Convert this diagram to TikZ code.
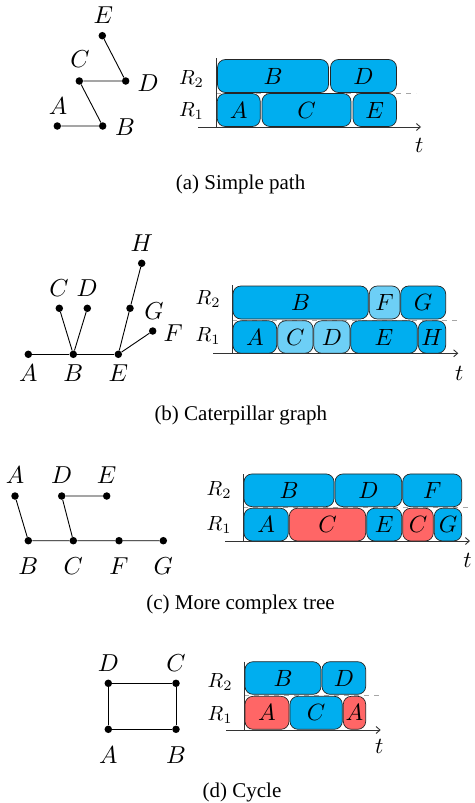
\documentclass[tikz,border=0pt]{standalone}
\usepackage{graphicx}
\usepackage{fontspec}
\newfontfamily\capfont{Liberation Serif}
\usetikzlibrary{arrows.meta}
\definecolor{cblue}{RGB}{0,174,239}
\definecolor{lblue}{RGB}{109,207,246}
\definecolor{cred}{RGB}{255,102,102}
\newcommand{\gl}[1]{\scalebox{2.45}{$#1$}}
\newcommand{\bl}[1]{\scalebox{2.35}{$#1$}}
\newcommand{\rl}[1]{\scalebox{2.05}{$#1$}}
\newcommand{\tl}[1]{\scalebox{2.3}{$#1$}}
\tikzset{
 vtx/.style={circle,fill=black,inner sep=0pt,minimum size=7.5pt},
 glab/.style={inner sep=0pt},
 gedge/.style={line width=0.9pt, black},
 job/.style={draw=black!85, line width=0.7pt, rounded corners=8pt, inner sep=0pt},
 jb/.style={job, fill=cblue},
 jl/.style={job, fill=lblue},
 jr/.style={job, fill=cred},
 rlab/.style={anchor=base east, inner sep=0pt},
 tlab/.style={inner sep=0pt},
 axisline/.style={line width=0.9pt, black!80},
 taxis/.style={axisline, -{Straight Barb[length=4pt,width=7pt]}},
 sepline/.style={gray!70, dash pattern=on 5pt off 5pt, line width=0.6pt},
 capt/.style={inner sep=0pt,font=\capfont\fontsize{21}{25}\selectfont},
}
\begin{document}
\begin{tikzpicture}[x=1pt,y=-1pt]
\useasboundingbox[fill=white] (0,0) rectangle (474,803);

% ---------------- (a) ----------------
\node[vtx] (aA) at (57.3,126) {};
\node[vtx] (aB) at (102.7,126) {};
\node[vtx] (aC) at (79.3,81) {};
\node[vtx] (aD) at (125.7,81) {};
\node[vtx] (aE) at (102.3,35.7) {};
\draw[gedge] (aA) -- (aB) -- (aC) -- (aD) -- (aE);
\node[glab] (laA) at (58,106) {\gl{A}};
\node[glab] (laB) at (125,127) {\gl{B}};
\node[glab] (laC) at (80,59) {\gl{C}};
\node[glab] (laD) at (148,83) {\gl{D}};
\node[glab] (laE) at (103.3,15) {\gl{E}};

\coordinate (aS1) at (216,92.8);
\coordinate (aS2) at (416,92.8);
\draw[sepline] (aS1) -- (aS2);
\node[jb, minimum width=111pt, minimum height=33pt] (jaB) at (273,76) {\bl{B}};
\node[jb, minimum width=66pt, minimum height=33pt] (jaD) at (363.5,76) {\bl{D}};
\node[jb, minimum width=43pt, minimum height=33pt] (jaA) at (238.75,110) {\bl{A}};
\node[jb, minimum width=89pt, minimum height=33pt] (jaC) at (306.5,110) {\bl{C}};
\node[jb, minimum width=43.5pt, minimum height=33pt] (jaE) at (374.75,110) {\bl{E}};
\coordinate (aO) at (216,127);
\coordinate (aTop) at (216,58);
\coordinate (aL) at (198,127);
\coordinate (aRt) at (421,127);
\draw[axisline] (aTop) -- (aO);
\draw[taxis] (aL) -- (aRt);
\node[rlab] (aR2) at (204,84.3) {\rl{R_2}};
\node[rlab] (aR1) at (204,116.7) {\rl{R_1}};
\node[tlab] (aT) at (419.3,145) {\tl{t}};
\node[capt] (capA) at (240.5,184) {(a) Simple path};

% ---------------- (b) ----------------
\node[vtx] (bA) at (28.3,354.3) {};
\node[vtx] (bB) at (73.3,354.3) {};
\node[vtx] (bE) at (118.3,354.3) {};
\node[vtx] (bC) at (59.3,308.3) {};
\node[vtx] (bD) at (87.3,308.3) {};
\node[vtx] (bG) at (130,308.3) {};
\node[vtx] (bH) at (141.7,263.3) {};
\node[vtx] (bF) at (152.7,331) {};
\draw[gedge] (bA) -- (bB) -- (bE);
\draw[gedge] (bB) -- (bC);
\draw[gedge] (bB) -- (bD);
\draw[gedge] (bE) -- (bG) -- (bH);
\draw[gedge] (bE) -- (bF);
\node[glab] (lbA) at (28.3,373.3) {\gl{A}};
\node[glab] (lbB) at (73.3,373.3) {\gl{B}};
\node[glab] (lbE) at (118.3,373.3) {\gl{E}};
\node[glab] (lbC) at (59,288.3) {\gl{C}};
\node[glab] (lbD) at (87,288.3) {\gl{D}};
\node[glab] (lbH) at (141.7,243.3) {\gl{H}};
\node[glab] (lbG) at (154,310.7) {\gl{G}};
\node[glab] (lbF) at (173.3,333.3) {\gl{F}};

\coordinate (bS1) at (232.3,320);
\coordinate (bS2) at (457,320);
\draw[sepline] (bS1) -- (bS2);
\node[jb, minimum width=135.3pt, minimum height=33pt] (jbB) at (300.65,302.5) {\bl{B}};
\node[jl, minimum width=30.7pt, minimum height=33pt] (jbF) at (384.65,302.5) {\bl{F}};
\node[jb, minimum width=45pt, minimum height=33pt] (jbG) at (423.2,302.5) {\bl{G}};
\node[jb, minimum width=43.7pt, minimum height=32.5pt] (jbA) at (254.85,337) {\bl{A}};
\node[jl, minimum width=35.3pt, minimum height=32.5pt] (jbC) at (295.35,337) {\bl{C}};
\node[jl, minimum width=36.3pt, minimum height=32.5pt] (jbD) at (331.85,337) {\bl{D}};
\node[jb, minimum width=66.6pt, minimum height=32.5pt] (jbE) at (384,337) {\bl{E}};
\node[jb, minimum width=27.4pt, minimum height=32.5pt] (jbH) at (432,337) {\bl{H}};
\coordinate (bO) at (232.3,353.3);
\coordinate (bTop) at (232.3,285);
\coordinate (bL) at (213.3,353.3);
\coordinate (bRt) at (458.3,353.3);
\draw[axisline] (bTop) -- (bO);
\draw[taxis] (bL) -- (bRt);
\node[rlab] (bR2) at (220.7,304.3) {\rl{R_2}};
\node[rlab] (bR1) at (220.7,341.7) {\rl{R_1}};
\node[tlab] (bT) at (459.3,373.3) {\tl{t}};
\node[capt] (capB) at (240.8,415.7) {(b) Caterpillar graph};

% ---------------- (c) ----------------
\node[vtx] (cA) at (15,496) {};
\node[vtx] (cD) at (61.7,496) {};
\node[vtx] (cE) at (106.7,496) {};
\node[vtx] (cB) at (28.3,540.7) {};
\node[vtx] (cC) at (73.3,540.7) {};
\node[vtx] (cF) at (119,540.7) {};
\node[vtx] (cG) at (163.3,540.7) {};
\draw[gedge] (cA) -- (cB) -- (cC) -- (cF) -- (cG);
\draw[gedge] (cC) -- (cD) -- (cE);
\node[glab] (lcA) at (15,475) {\gl{A}};
\node[glab] (lcD) at (61.7,475) {\gl{D}};
\node[glab] (lcE) at (106.7,475) {\gl{E}};
\node[glab] (lcB) at (28.3,566) {\gl{B}};
\node[glab] (lcC) at (73.3,566) {\gl{C}};
\node[glab] (lcF) at (119,566) {\gl{F}};
\node[glab] (lcG) at (163.3,566) {\gl{G}};

\coordinate (cS1) at (243.3,507.5);
\coordinate (cS2) at (468,507.5);
\draw[sepline] (cS1) -- (cS2);
\node[jb, minimum width=90pt, minimum height=32.7pt] (jcB) at (289,490.3) {\bl{B}};
\node[jb, minimum width=66.7pt, minimum height=32.7pt] (jcD) at (368.35,490.3) {\bl{D}};
\node[jb, minimum width=59pt, minimum height=32.7pt] (jcF) at (432.2,490.3) {\bl{F}};
\node[jb, minimum width=44.3pt, minimum height=32.7pt] (jcA) at (266.15,524.6) {\bl{A}};
\node[jr, minimum width=76.4pt, minimum height=32.7pt] (jcC) at (327.5,524.6) {\bl{C}};
\node[jb, minimum width=35pt, minimum height=32.7pt] (jcE) at (384.2,524.6) {\bl{E}};
\node[jr, minimum width=30.6pt, minimum height=32.7pt] (jcC2) at (418,524.6) {\bl{C}};
\node[jb, minimum width=27.4pt, minimum height=32.7pt] (jcG) at (448,524.6) {\bl{G}};
\coordinate (cO) at (243.3,541);
\coordinate (cTop) at (243.3,474);
\coordinate (cL) at (225,541);
\coordinate (cRt) at (470,541);
\draw[axisline] (cTop) -- (cO);
\draw[taxis] (cL) -- (cRt);
\node[rlab] (cR2) at (231.7,495) {\rl{R_2}};
\node[rlab] (cR1) at (231.7,530.7) {\rl{R_1}};
\node[tlab] (cT) at (467.5,560) {\tl{t}};
\node[capt] (capC) at (240.5,604) {(c) More complex tree};

% ---------------- (d) ----------------
\node[vtx] (dD) at (108.3,683.3) {};
\node[vtx] (dC) at (176,683.3) {};
\node[vtx] (dA) at (108.3,729.3) {};
\node[vtx] (dB) at (176,729.3) {};
\draw[gedge] (dD) -- (dC) -- (dB) -- (dA) -- (dD);
\node[glab] (ldD) at (108.3,663.3) {\gl{D}};
\node[glab] (ldC) at (176,663.3) {\gl{C}};
\node[glab] (ldA) at (108.3,755) {\gl{A}};
\node[glab] (ldB) at (176,755) {\gl{B}};

\coordinate (dS1) at (244,695);
\coordinate (dS2) at (379,695);
\draw[sepline] (dS1) -- (dS2);
\node[jb, minimum width=76pt, minimum height=32.6pt] (jdB) at (283,678) {\bl{B}};
\node[jb, minimum width=43.7pt, minimum height=32.6pt] (jdD) at (343.85,678) {\bl{D}};
\node[jr, minimum width=44pt, minimum height=33pt] (jdA) at (267,712.8) {\bl{A}};
\node[jb, minimum width=52.3pt, minimum height=33pt] (jdC) at (316.15,712.8) {\bl{C}};
\node[jr, minimum width=22.4pt, minimum height=33pt] (jdA2) at (354.5,712.8) {\bl{A}};
\coordinate (dO) at (244,730);
\coordinate (dTop) at (244,661.7);
\coordinate (dL) at (226,730);
\coordinate (dRt) at (380.7,730);
\draw[axisline] (dTop) -- (dO);
\draw[taxis] (dL) -- (dRt);
\node[rlab] (dR2) at (232.7,687.3) {\rl{R_2}};
\node[rlab] (dR1) at (232.7,720.7) {\rl{R_1}};
\node[tlab] (dT) at (379.3,746.7) {\tl{t}};
\node[capt] (capD) at (242,792) {(d) Cycle};
\end{tikzpicture}
\end{document}
